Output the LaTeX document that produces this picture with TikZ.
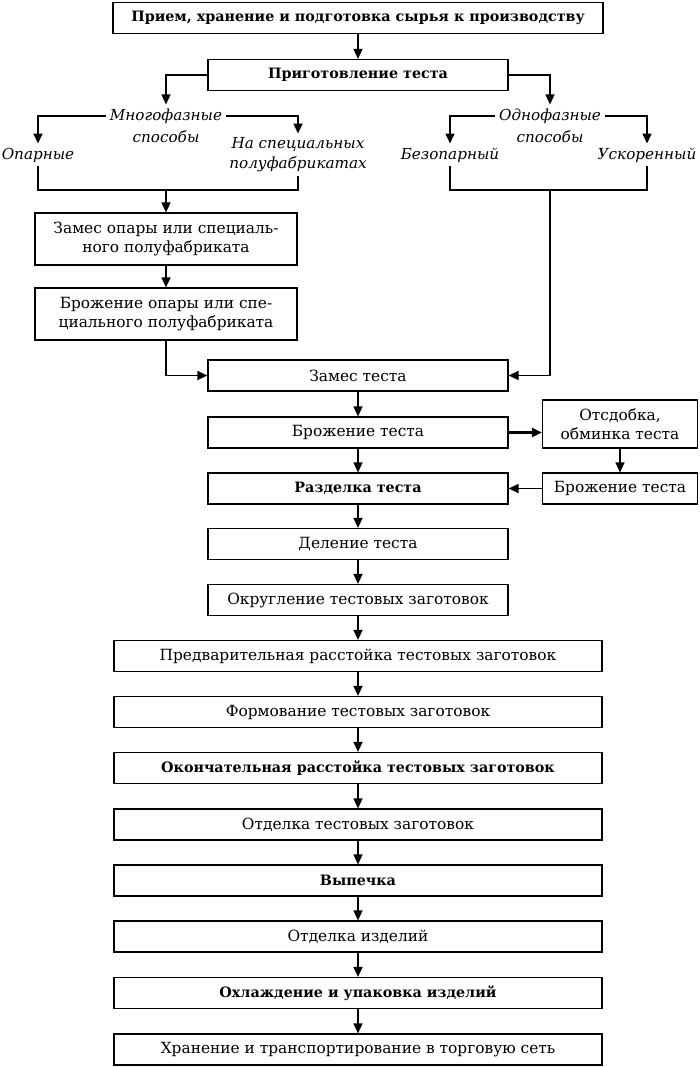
\documentclass[tikz,border=0pt]{standalone}
\usepackage{fontspec}
\setmainfont{DejaVu Serif}
\usetikzlibrary{arrows.meta}
\begin{document}
\begin{tikzpicture}[x=1pt,y=-1pt,
 txt/.style={font=\fontsize{15.4}{19}\selectfont},
 box/.style={draw,line width=1.2pt,inner sep=0pt,align=center,txt,minimum height=31pt},
 nbox/.style={box,minimum width=300pt},
 wbox/.style={box,minimum width=488pt},
 bld/.style={font=\fontsize{14.3}{18}\selectfont\bfseries},
 lbl/.style={inner sep=4pt,align=center,font=\fontsize{15.2}{20}\selectfont\itshape},
 arr/.style={line width=1.5pt,-{Triangle[length=10pt,width=9pt]}},
 ln/.style={line width=1.5pt}]
\useasboundingbox (0,0) rectangle (700,1067);
% top
\node[box,bld,minimum width=490pt] (b1) at (358,18) {Прием, хранение и подготовка сырья к производству};
\node[nbox,bld] (b2) at (358,75) {Приготовление теста};
% multiphase
\node[lbl] (mf) at (166,116) {Многофазные};
\node[lbl] (mfs) at (166,137) {способы};
\node[lbl] (op) at (38,155) {Опарные};
\node[lbl] (ns) at (298,155) {На специальных\\полуфабрикатах};
% single phase
\node[lbl] (of) at (550,116) {Однофазные};
\node[lbl] (ofs) at (550,137) {способы};
\node[lbl] (bz) at (450,155) {Безопарный};
\node[lbl] (us) at (647,155) {Ускоренный};
\coordinate (jl) at (166,190);
\coordinate (jr) at (550,190);
% left column
\node[box,minimum width=262pt,minimum height=52pt] (b3) at (166,239) {Замес опары или специаль-\\ного полуфабриката};
\node[box,minimum width=262pt,minimum height=52pt] (b4) at (166,314) {Брожение опары или спе-\\циального полуфабриката};
% main column
\node[nbox] (b5) at (358,375.5) {Замес теста};
\node[nbox] (b6) at (358,432.5) {Брожение теста};
\node[box,minimum width=155pt,minimum height=48pt] (r1) at (620,424) {Отсдобка,\\обминка теста};
\node[nbox,bld] (b7) at (358,488.5) {Разделка теста};
\node[box,minimum width=155pt] (r2) at (620,488.5) {Брожение теста};
\node[nbox] (b8) at (358,544) {Деление теста};
\node[nbox] (b9) at (358,600) {Округление тестовых заготовок};
\node[wbox] (b10) at (358,656) {Предварительная расстойка тестовых заготовок};
\node[wbox] (b11) at (358,712) {Формование тестовых заготовок};
\node[wbox,bld] (b12) at (358,768) {Окончательная расстойка тестовых заготовок};
\node[wbox] (b13) at (358,824.5) {Отделка тестовых заготовок};
\node[wbox,bld] (b14) at (358,880.5) {Выпечка};
\node[wbox] (b15) at (358,936.5) {Отделка изделий};
\node[wbox,bld] (b16) at (358,993) {Охлаждение и упаковка изделий};
\node[wbox] (b17) at (358,1049.5) {Хранение и транспортирование в торговую сеть};
% connectors
\draw[arr] (b1) -- (b2);
\draw[arr] (b2.west) -| (mf.north);
\draw[arr] (b2.east) -| (of.north);
\draw[arr] (mf.west) -| (op.north);
\draw[arr] (mf.east) -| (ns.north);
\draw[arr] (of.west) -| (bz.north);
\draw[arr] (of.east) -| (us.north);
\draw[ln] (op.south) |- (jl) -| (ns.south);
\draw[ln] (bz.south) |- (jr) -| (us.south);
\draw[arr] (jl) -- (b3);
\draw[arr] (b3) -- (b4);
\draw[arr] (b4.south) |- (b5.west);
\draw[arr] (jr) |- (b5.east);
\draw[arr] (b5) -- (b6);
\draw[arr,line width=2.8pt] (b6.east) -- (b6.east -| r1.west);
\draw[arr] (r1) -- (r2);
\draw[arr] (r2) -- (b7);
\draw[arr] (b6) -- (b7);
\draw[arr] (b7) -- (b8);
\draw[arr] (b8) -- (b9);
\draw[arr] (b9) -- (b10);
\draw[arr] (b10) -- (b11);
\draw[arr] (b11) -- (b12);
\draw[arr] (b12) -- (b13);
\draw[arr] (b13) -- (b14);
\draw[arr] (b14) -- (b15);
\draw[arr] (b15) -- (b16);
\draw[arr] (b16) -- (b17);
\end{tikzpicture}
\end{document}
